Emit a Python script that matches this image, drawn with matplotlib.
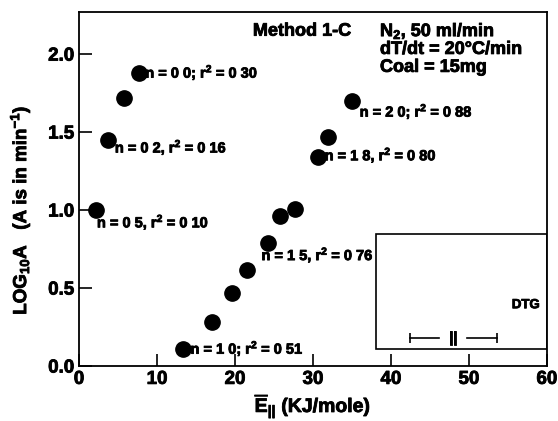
import matplotlib
matplotlib.use('Agg')
import matplotlib.pyplot as plt
import matplotlib.patheffects as pe
from matplotlib.patches import Rectangle
from matplotlib.text import Text

plt.rcParams['font.family'] = ['Liberation Sans', 'DejaVu Sans']
plt.rcParams['font.weight'] = 'bold'
plt.rcParams['mathtext.fontset'] = 'custom'
plt.rcParams['mathtext.rm'] = 'Liberation Sans:bold'
plt.rcParams['mathtext.it'] = 'Liberation Sans:bold'
plt.rcParams['mathtext.bf'] = 'Liberation Sans:bold'

# activation energy (KJ/mole) vs log10 A
energy = [2.2, 3.7, 5.8, 7.7, 13.3, 17.0, 19.6, 21.5, 24.3, 25.8, 27.7, 30.6, 31.9, 35.0]
log_a = [1.00, 1.45, 1.72, 1.88, 0.11, 0.28, 0.47, 0.615, 0.79, 0.96, 1.01, 1.34, 1.47, 1.70]

# point labels (as printed, decimals lost in the scan)
label_text = ['n = 0 5, r$^2$ = 0 10', 'n = 0 2, r$^2$ = 0 16', 'n = 0 0; r$^2$ = 0 30',
              'n = 1 0; r$^2$ = 0 51', 'n = 1 5, r$^2$ = 0 76', 'n = 1 8, r$^2$ = 0 80',
              'n = 2 0; r$^2$ = 0 88']
label_x = [2.3, 4.6, 8.5, 14.3, 23.4, 31.5, 36.0]
label_y = [0.92, 1.40, 1.88, 0.11, 0.71, 1.35, 1.63]

fig = plt.figure(figsize=(5.58, 4.21), dpi=100)
ax = fig.add_axes([0.1416, 0.1306, 0.8384, 0.8409])

ax.plot(energy, log_a, 'o', color='black', markersize=11, linestyle='none')

for t, x, y in zip(label_text, label_x, label_y):
    ax.text(x, y, t, fontsize=10.5, fontweight='bold', va='center', ha='left')

# header
ax.text(22.3, 2.147, 'Method 1-C', fontsize=13, fontweight='bold', va='center')
ax.text(38.6, 2.147, 'N$_2$, 50 ml/min', fontsize=13, fontweight='bold', va='center')
ax.text(38.6, 2.03, 'dT/dt = 20°C/min', fontsize=13, fontweight='bold', va='center')
ax.text(38.6, 1.915, 'Coal = 15mg', fontsize=13, fontweight='bold', va='center')

# inset DTG box
ax.add_patch(Rectangle((38.1, 0.11), 21.9, 0.735, fill=False, edgecolor='black', linewidth=1.2))
ax.text(57.3, 0.39, 'DTG', fontsize=9.5, fontweight='bold', va='center', ha='center')
ax.plot([42.4, 46.2], [0.18, 0.18], color='black', linewidth=1.2)
ax.plot([49.8, 53.6], [0.18, 0.18], color='black', linewidth=1.2)
ax.plot([42.4, 53.6], [0.18, 0.18], '|', color='black', markersize=7, markeredgewidth=1.2)
ax.text(48.0, 0.18, '||', fontsize=11, fontweight='bold', va='center', ha='center')

ax.set_xlim(0, 60)
ax.set_ylim(0, 2.27)
ax.set_xticks([0, 10, 20, 30, 40, 50, 60])
ax.set_yticks([0.0, 0.5, 1.0, 1.5, 2.0])
ax.set_yticklabels(['0.0', '0.5', '1.0', '1.5', '2.0'])
ax.tick_params(direction='in', length=9, width=1.2, labelsize=13.5, top=False, right=False)
for lab in ax.get_xticklabels() + ax.get_yticklabels():
    lab.set_fontweight('bold')
for s in ax.spines.values():
    s.set_linewidth(1.3)

ax.set_xlabel(r'$\overline{\mathrm{E}}_{||}$ (KJ/mole)', fontsize=14, fontweight='bold', labelpad=3)
ax.set_ylabel(r'LOG$_{10}$A   (A is in min$^{-1}$)', fontsize=13.5, fontweight='bold')
ax.yaxis.set_label_coords(-0.10, 0.44)

# heavier print look
for t in fig.findobj(Text):
    t.set_path_effects([pe.withStroke(linewidth=0.6, foreground='black')])

fig.savefig('out.png', dpi=100)
